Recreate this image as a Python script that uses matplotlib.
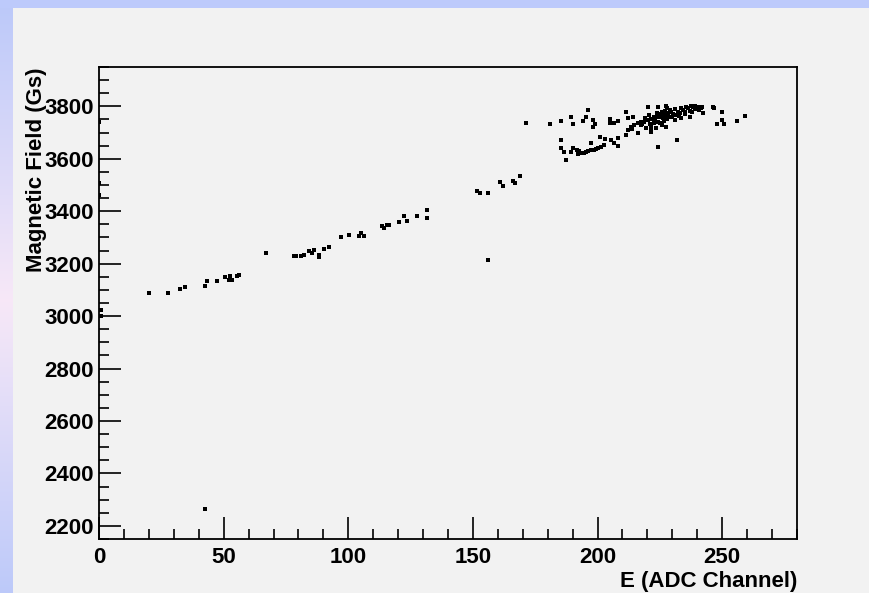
import numpy as np
import matplotlib
matplotlib.use("Agg")
import matplotlib.pyplot as plt
from matplotlib.patches import Rectangle
from matplotlib.ticker import MultipleLocator

# ---------------- data ----------------
E_low = [0, 0, 0, 1, 1,
         20.2, 27.5, 32.3, 34.6, 42.6, 43.3, 47.5, 50.6, 52.4, 52.0, 53.3, 55.3, 56.0,
         67.1, 78.1, 79.2, 81.1, 82.2, 84.1, 85.5, 86.1, 88.1, 88.1, 90.2, 92.2,
         97.1, 100.2, 104.2, 105.2, 106.3, 113.6, 114.5, 115.4, 116.3, 120.3, 122.3,
         123.4, 127.4, 131.4, 131.4, 151.8, 152.9, 156.1, 160.9, 162.1, 165.9, 166.9,
         168.9, 156.1, 42.6, 171.2]
B_low = [3741, 3509, 3463, 3025, 3002,
         3088, 3088, 3105, 3110, 3113, 3132, 3135, 3148, 3152, 3139, 3139, 3152, 3158,
         3241, 3230, 3230, 3230, 3234, 3247, 3241, 3253, 3234, 3224, 3257, 3264,
         3302, 3310, 3307, 3317, 3307, 3345, 3336, 3349, 3349, 3359, 3380,
         3364, 3383, 3403, 3376, 3478, 3469, 3469, 3511, 3497, 3517, 3507,
         3536, 3213, 2263, 3738]

E_upper = [181.0, 185.3, 189.3, 190.2, 194.2, 195.3, 196.3, 198.3, 199.0, 198.3,
           205.1, 205.1, 206.7, 208.3, 211.4, 212.3, 214.3, 220.4, 224.4, 227.3]
B_upper = [3732, 3745, 3761, 3732, 3745, 3761, 3787, 3749, 3732, 3723,
           3751, 3738, 3736, 3745, 3778, 3755, 3759, 3799, 3799, 3801]

E_band = [185.3, 185.3, 186.4, 187.3, 190.2, 191.6, 192.6, 193.3, 194.7, 196.0,
          197.3, 198.7, 200.0, 201.4, 202.7, 197.3, 201.1, 203.0, 205.4, 206.7,
          208.3, 208.3, 189.5, 192.0, 195.5, 199.5]
B_band = [3672, 3641, 3624, 3596, 3641, 3634, 3628, 3622, 3622, 3630,
          3632, 3634, 3641, 3645, 3653, 3660, 3683, 3675, 3670, 3662,
          3679, 3647, 3625, 3618, 3625, 3638]

E_rise = [211.4, 212.3, 213.4, 214.8, 216.1, 217.4, 218.8, 220.1, 221.5, 222.8,
          224.1, 225.5, 226.8, 228.2, 229.5, 216.4, 221.5, 217.5, 220.5, 222.5,
          223.8, 225.8, 227.8, 229.0, 221.5, 222.8, 224.1, 226.1, 228.2, 230.2,
          232.2, 234.2, 236.2, 238.2, 240.2, 241.5, 242.2, 221.5, 223.5, 227.5,
          230.9, 233.6, 236.9, 231.9, 224.4, 246.2, 246.9, 249.9, 249.9, 250.9,
          248.0, 256.0, 259.0,
          219.0, 221.0, 223.0, 225.0, 226.5, 228.0, 230.0, 231.5, 233.0, 235.0,
          237.0, 239.0, 231.0, 233.5, 235.5, 237.5, 239.0, 226.0, 219.5, 214.0,
          218.0, 225.0, 227.0, 232.5, 235.0, 238.0, 240.5, 242.0]
B_rise = [3691, 3708, 3723, 3730, 3736, 3740, 3742, 3746, 3751, 3755,
          3759, 3761, 3768, 3774, 3780, 3700, 3710, 3727, 3768, 3761,
          3774, 3780, 3793, 3787, 3723, 3736, 3742, 3755, 3761, 3771,
          3780, 3787, 3793, 3797, 3799, 3793, 3774, 3704, 3717, 3723,
          3749, 3755, 3761, 3672, 3645, 3797, 3793, 3778, 3746, 3732,
          3732, 3745, 3765,
          3755, 3733, 3748, 3735, 3745, 3752, 3760, 3766, 3773, 3778,
          3784, 3790, 3790, 3795, 3799, 3801, 3803, 3727, 3718, 3715,
          3733, 3770, 3784, 3762, 3769, 3778, 3786, 3797]

x_label = "E (ADC Channel)"
y_label = "Magnetic Field (Gs)"

E = np.array(E_low + E_upper + E_band + E_rise)
B = np.array(B_low + B_upper + B_band + B_rise)

# ---------------- figure ----------------
W, H = 869, 593
fig = plt.figure(figsize=(W / 100, H / 100), dpi=100, facecolor="#f2f2f2")

# top blue band
fig.patches.append(Rectangle((0, 1 - 8 / H), 1, 8 / H, transform=fig.transFigure,
                             facecolor="#bdcafb", edgecolor="none", zorder=0))
# left gradient band
gax = fig.add_axes([0, 0, 13 / W, 1 - 8 / H])
gax.set_axis_off()
top_c = np.array([0.74, 0.79, 0.98])
mid_c = np.array([0.97, 0.91, 0.97])
t = np.linspace(0, 1, 300)
w = 1 - np.abs(t - 0.5) * 2
grad = (top_c[None, :] * (1 - w[:, None]) + mid_c[None, :] * w[:, None])
gax.imshow(grad[:, None, :], aspect="auto", extent=[0, 1, 0, 1])

plt.rcParams["font.family"] = ["Liberation Sans", "DejaVu Sans"]

ax = fig.add_axes([99 / W, 1 - 539 / H, (797 - 99) / W, (539 - 67) / H])
ax.set_facecolor("#f2f2f2")
ax.scatter(E, B, marker="s", s=12, color="black", linewidths=0, zorder=3)

ax.set_xlim(0, 280)
ax.set_ylim(2150, 3950)
ax.xaxis.set_major_locator(MultipleLocator(50))
ax.xaxis.set_minor_locator(MultipleLocator(10))
ax.yaxis.set_major_locator(MultipleLocator(200))
ax.yaxis.set_minor_locator(MultipleLocator(50))

ax.tick_params(which="both", direction="in", top=False, right=False,
               colors="black", width=1.2)
ax.tick_params(which="major", length=16)
ax.tick_params(which="minor", length=7)
ax.tick_params(axis="y", which="major", pad=4)
ax.tick_params(axis="x", which="major", pad=6)
for lab in ax.get_xticklabels() + ax.get_yticklabels():
    lab.set_fontsize(16)
    lab.set_fontweight("bold")

for s in ax.spines.values():
    s.set_linewidth(1.3)
    s.set_color("black")

ax.set_xlabel(x_label, fontsize=16, fontweight="bold", loc="right", labelpad=2)
ax.set_ylabel(y_label, fontsize=16, fontweight="bold", loc="top", labelpad=-2)

fig.savefig("out.png", dpi=100, facecolor=fig.get_facecolor())
